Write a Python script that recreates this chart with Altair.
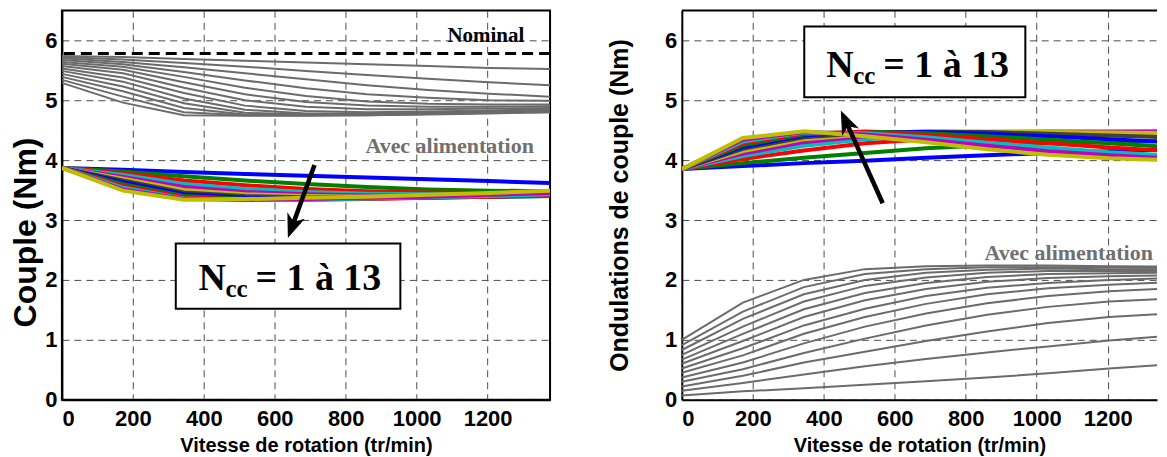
import altair as alt
import pandas as pd

# ---------------- data ----------------
speed = [0, 172, 344, 516, 688, 860, 1032, 1204, 1376]
ncc = list(range(1, 14))
x_ticks = [0, 200, 400, 600, 800, 1000, 1200]
y_ticks = [0, 1, 2, 3, 4, 5, 6]
nominal_torque = 5.78

# Couple moyen, "Avec alimentation" (gris), Ncc = 1..13
torque_supply = [
    [5.74, 5.72, 5.69, 5.66, 5.63, 5.60, 5.57, 5.54, 5.52],
    [5.72, 5.68, 5.62, 5.56, 5.49, 5.42, 5.36, 5.30, 5.25],
    [5.70, 5.64, 5.55, 5.45, 5.35, 5.25, 5.17, 5.11, 5.06],
    [5.67, 5.60, 5.47, 5.33, 5.20, 5.10, 5.04, 5.00, 4.99],
    [5.64, 5.56, 5.39, 5.21, 5.07, 4.98, 4.94, 4.93, 4.93],
    [5.61, 5.51, 5.30, 5.10, 4.97, 4.91, 4.89, 4.89, 4.90],
    [5.57, 5.45, 5.21, 5.00, 4.89, 4.85, 4.85, 4.86, 4.87],
    [5.53, 5.38, 5.12, 4.91, 4.82, 4.80, 4.81, 4.83, 4.85],
    [5.49, 5.31, 5.03, 4.84, 4.78, 4.78, 4.79, 4.81, 4.83],
    [5.44, 5.23, 4.95, 4.79, 4.76, 4.76, 4.78, 4.80, 4.82],
    [5.39, 5.15, 4.87, 4.76, 4.75, 4.76, 4.77, 4.79, 4.81],
    [5.34, 5.06, 4.80, 4.75, 4.75, 4.75, 4.77, 4.79, 4.80],
    [5.29, 4.96, 4.75, 4.74, 4.74, 4.75, 4.76, 4.78, 4.80],
]

# Couple moyen, Ncc = 1..13 (couleurs)
torque_ncc = [
    [3.87, 3.84, 3.80, 3.77, 3.74, 3.71, 3.68, 3.65, 3.62],
    [3.87, 3.81, 3.73, 3.66, 3.60, 3.55, 3.51, 3.49, 3.48],
    [3.87, 3.78, 3.66, 3.58, 3.52, 3.48, 3.46, 3.45, 3.45],
    [3.87, 3.75, 3.60, 3.52, 3.47, 3.44, 3.43, 3.43, 3.44],
    [3.87, 3.72, 3.55, 3.47, 3.43, 3.41, 3.41, 3.42, 3.43],
    [3.87, 3.69, 3.50, 3.43, 3.40, 3.39, 3.40, 3.41, 3.42],
    [3.87, 3.66, 3.46, 3.40, 3.38, 3.38, 3.39, 3.40, 3.41],
    [3.87, 3.63, 3.43, 3.37, 3.36, 3.37, 3.38, 3.39, 3.40],
    [3.87, 3.60, 3.40, 3.35, 3.35, 3.36, 3.37, 3.39, 3.40],
    [3.87, 3.57, 3.38, 3.34, 3.34, 3.35, 3.37, 3.39, 3.41],
    [3.87, 3.54, 3.36, 3.34, 3.34, 3.36, 3.38, 3.40, 3.43],
    [3.87, 3.51, 3.35, 3.34, 3.35, 3.37, 3.39, 3.42, 3.45],
    [3.87, 3.49, 3.34, 3.35, 3.37, 3.39, 3.42, 3.45, 3.49],
]

# Ondulations de couple, "Avec alimentation" (gris)
ripple_supply = [
    [0.07, 0.14, 0.19, 0.25, 0.31, 0.37, 0.44, 0.52, 0.59],
    [0.15, 0.28, 0.42, 0.56, 0.68, 0.79, 0.89, 0.99, 1.07],
    [0.22, 0.40, 0.62, 0.80, 0.98, 1.14, 1.28, 1.38, 1.44],
    [0.30, 0.51, 0.78, 1.02, 1.24, 1.42, 1.55, 1.64, 1.69],
    [0.37, 0.62, 0.94, 1.22, 1.44, 1.61, 1.73, 1.81, 1.86],
    [0.45, 0.74, 1.10, 1.38, 1.60, 1.76, 1.86, 1.92, 1.96],
    [0.52, 0.86, 1.24, 1.52, 1.73, 1.87, 1.95, 2.00, 2.03],
    [0.60, 0.98, 1.38, 1.66, 1.85, 1.97, 2.03, 2.06, 2.08],
    [0.67, 1.10, 1.51, 1.78, 1.95, 2.05, 2.10, 2.11, 2.12],
    [0.75, 1.22, 1.64, 1.90, 2.04, 2.12, 2.15, 2.15, 2.15],
    [0.83, 1.35, 1.76, 2.00, 2.12, 2.17, 2.19, 2.18, 2.18],
    [0.91, 1.47, 1.88, 2.10, 2.18, 2.21, 2.21, 2.21, 2.20],
    [1.00, 1.62, 2.00, 2.18, 2.23, 2.24, 2.24, 2.23, 2.22],
]

# Ondulations de couple, Ncc = 1..13 (couleurs)
ripple_ncc = [
    [3.85, 3.90, 3.95, 3.99, 4.04, 4.08, 4.12, 4.15, 4.18],
    [3.85, 3.95, 4.04, 4.12, 4.20, 4.25, 4.28, 4.30, 4.32],
    [3.85, 4.02, 4.16, 4.28, 4.35, 4.39, 4.42, 4.43, 4.44],
    [3.85, 4.07, 4.24, 4.35, 4.41, 4.44, 4.46, 4.47, 4.48],
    [3.85, 4.11, 4.30, 4.40, 4.45, 4.47, 4.48, 4.48, 4.48],
    [3.85, 4.15, 4.35, 4.43, 4.47, 4.48, 4.47, 4.46, 4.45],
    [3.85, 4.19, 4.38, 4.45, 4.48, 4.47, 4.44, 4.41, 4.38],
    [3.85, 4.22, 4.41, 4.47, 4.47, 4.44, 4.40, 4.35, 4.30],
    [3.85, 4.25, 4.43, 4.48, 4.45, 4.40, 4.34, 4.28, 4.22],
    [3.85, 4.28, 4.45, 4.47, 4.42, 4.35, 4.28, 4.21, 4.15],
    [3.85, 4.31, 4.46, 4.45, 4.38, 4.29, 4.21, 4.13, 4.08],
    [3.85, 4.34, 4.47, 4.43, 4.34, 4.24, 4.15, 4.08, 4.03],
    [3.85, 4.37, 4.48, 4.40, 4.30, 4.18, 4.09, 4.03, 4.00],
]

matlab_colors = ["#0000FF", "#008000", "#FF0000", "#00BFBF", "#BF00BF", "#BFBF00", "#404040"]

GRAY = "#6b6b6b"
SANS = "Liberation Sans"
SERIF = "Liberation Serif"
ARROW = "M0,0 L0.62,1.6 L0,1.15 L-0.62,1.6 Z"


def long_table(rows, colored):
    recs = []
    for i, row in enumerate(rows):
        for xv, yv in zip(speed, row):
            recs.append({
                "x": xv, "y": yv, "n": ncc[i],
                "c": matlab_colors[i % len(matlab_colors)] if colored else GRAY,
            })
    return pd.DataFrame(recs)


def panel(gray_rows, col_rows, ytitle, xmax, width, yaxis_extra, box, ntext, arrow, avec,
          extra=None, top_rule=False):
    x_enc = alt.X("x:Q", scale=alt.Scale(domain=[0, xmax], nice=False, zero=False),
                  axis=alt.Axis(values=x_ticks, format="d", title="Vitesse de rotation (tr/min)"))
    y_enc = alt.Y("y:Q", scale=alt.Scale(domain=[0, 6.5], nice=False),
                  axis=alt.Axis(values=y_ticks, format="d", title=ytitle, **yaxis_extra))
    gray = alt.Chart(long_table(gray_rows, False)).mark_line(
        color=GRAY, strokeWidth=2, clip=True).encode(x=x_enc, y=y_enc, detail="n:N")
    col = alt.Chart(long_table(col_rows, True)).mark_line(
        strokeWidth=4, clip=True).encode(x="x:Q", y="y:Q",
                                         color=alt.Color("c:N", scale=None), detail="n:N")
    layers = [gray, col]
    if extra is not None:
        layers += extra
    if top_rule:
        layers.append(alt.Chart().mark_rule(color="black", strokeWidth=2).encode(
            y=alt.datum(6.5)))
    # Avec alimentation
    layers.append(alt.Chart().mark_text(
        font=SERIF, fontWeight="bold", fontSize=22, color="#707070").encode(
        x=alt.datum(avec[0]), y=alt.datum(avec[1]), text=alt.value("Avec alimentation")))
    # arrow
    (tx, ty, ex, ey, hx, hy, ang) = arrow
    layers.append(alt.Chart().mark_rule(strokeWidth=4.5, color="black").encode(
        x=alt.datum(tx), y=alt.datum(ty), x2=alt.datum(ex), y2=alt.datum(ey)))
    layers.append(alt.Chart().mark_point(
        shape=ARROW, filled=True, color="black", opacity=1, size=900, angle=ang,
        strokeWidth=0).encode(x=alt.datum(hx), y=alt.datum(hy)))
    # box
    layers.append(alt.Chart().mark_rect(fill="white", stroke="black", strokeWidth=2).encode(
        x=alt.datum(box[0]), x2=alt.datum(box[1]), y=alt.datum(box[2]), y2=alt.datum(box[3])))
    nx, ny = ntext
    layers.append(alt.Chart().mark_text(font=SERIF, fontWeight="bold", fontSize=38,
                                        align="left", baseline="alphabetic").encode(
        x=alt.datum(nx), y=alt.datum(ny), text=alt.value("N")))
    layers.append(alt.Chart().mark_text(font=SERIF, fontWeight="bold", fontSize=25,
                                        align="left", baseline="alphabetic", dx=27, dy=7).encode(
        x=alt.datum(nx), y=alt.datum(ny), text=alt.value("cc")))
    layers.append(alt.Chart().mark_text(font=SERIF, fontWeight="bold", fontSize=38,
                                        align="left", baseline="alphabetic", dx=57).encode(
        x=alt.datum(nx), y=alt.datum(ny), text=alt.value("= 1 à 13")))
    return alt.layer(*layers).properties(width=width, height=390)


nominal_layers = [
    alt.Chart().mark_rule(color="black", strokeWidth=3, strokeDash=[11, 6]).encode(
        y=alt.datum(nominal_torque)),
    alt.Chart().mark_text(font=SERIF, fontWeight="bold", fontSize=21, color="black").encode(
        x=alt.datum(1195), y=alt.datum(6.07), text=alt.value("Nominal")),
]

left = panel(torque_supply, torque_ncc, "Couple (Nm)", xmax=1376, width=489,
             yaxis_extra=dict(titleFontSize=32, titlePadding=2, titleY=222),
             box=(321, 954, 2.61, 1.52), ntext=(385, 1.83),
             arrow=(712, 3.92, 649, 2.89, 637, 2.70, 200),
             avec=(1093, 4.23), extra=nominal_layers)

right = panel(ripple_supply, ripple_ncc, "Ondulations de couple (Nm)", xmax=1339, width=476,
              yaxis_extra=dict(titleFontSize=25, titlePadding=32),
              box=(345, 968, 6.23, 5.05), ntext=(407, 5.39),
              arrow=(566, 3.28, 462, 4.65, 448, 4.83, 336),
              avec=(1090, 2.45), top_rule=True).properties(
    view=alt.ViewBackground(stroke="transparent"))

chart = alt.hconcat(left, right, spacing=53).properties(
    padding={"left": 0, "top": 0, "right": 0, "bottom": 0}
).configure_view(
    stroke="black", strokeWidth=2
).configure_axis(
    labelFont=SANS, labelFontSize=22, labelFontWeight="bold", labelColor="black",
    titleFont=SANS, titleFontSize=20, titleFontWeight="bold", titleColor="black",
    grid=True, gridColor="#4d4d4d", gridDash=[7, 5], gridWidth=1, gridOpacity=1,
    domainColor="black", domainWidth=2, tickSize=0,
).configure_axisY(labelPadding=5).configure_axisX(titlePadding=6, labelPadding=9)

chart.save("out.html", embed_options={"renderer": "svg", "actions": False})
